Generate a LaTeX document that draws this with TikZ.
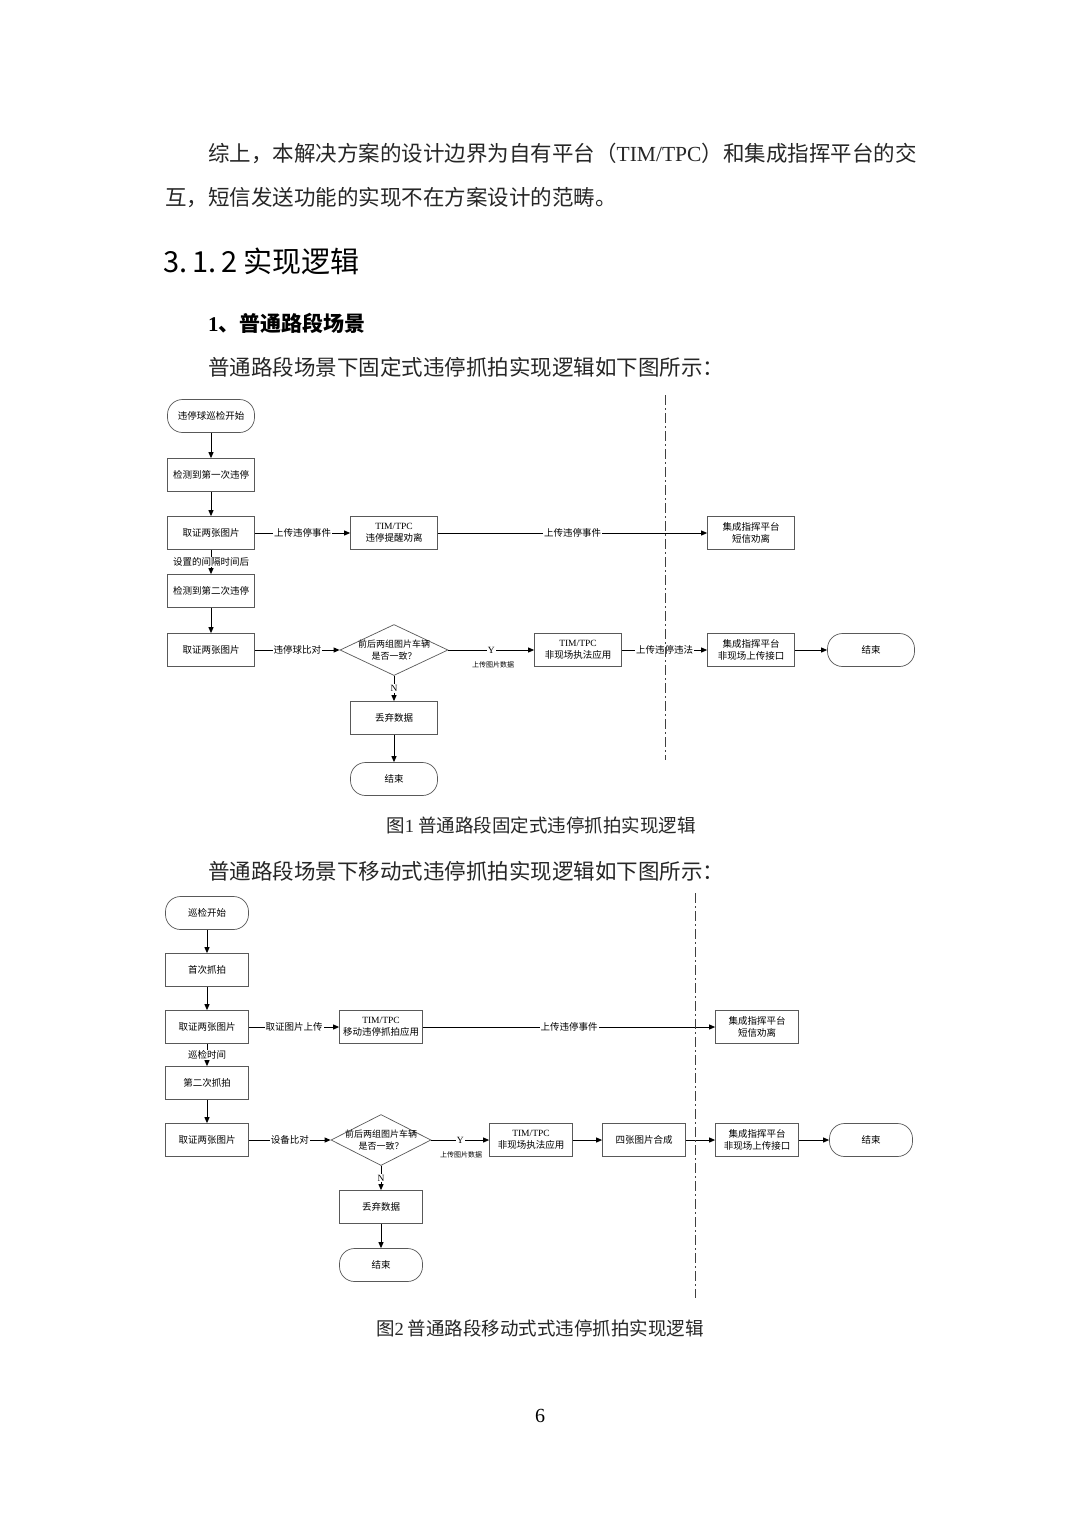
\documentclass[tikz,border=0pt]{standalone}
\usepackage{fontspec}
\setmainfont{Noto Sans CJK SC}
\newfontfamily\serif{Liberation Serif}
\usetikzlibrary{shapes.geometric,arrows.meta}
\begin{document}
\begin{tikzpicture}[x=1pt,y=-1pt,
  box/.style={draw=black!65, line width=0.7pt, minimum width=87pt, minimum height=33pt, inner sep=1pt, align=center, font=\fontsize{9.5}{12}\selectfont},
  boxb/.style={box, minimum width=83pt},
  term/.style={box, rounded corners=15pt},
  termb/.style={term, minimum width=83pt},
  dia/.style={draw=black!65, line width=0.7pt, diamond, minimum width=108pt, minimum height=51pt, inner sep=0pt},
  diab/.style={dia, minimum width=100pt},
  diatext/.style={align=center, inner sep=0pt, font=\fontsize{9}{12}\selectfont},
  arr/.style={line width=0.9pt, -{Triangle[length=6pt,width=5pt]}},
  lab/.style={fill=white, inner sep=1pt, font=\fontsize{9.5}{10}\selectfont},
  small/.style={inner sep=0pt, font=\fontsize{7}{8}\selectfont},
  para/.style={anchor=west, inner sep=0pt, font=\fontsize{21.5}{21.5}\selectfont, text=black!85},
  captext/.style={inner sep=0pt, font=\fontsize{18.5}{18.5}\selectfont, text=black!85},
  sep/.style={line width=0.8pt, black!75, dash pattern=on 10pt off 3pt on 2pt off 3pt}
]
\useasboundingbox (0,0) rectangle (1080,1527);
\fill[white] (0,0) rectangle (1080,1527);

% ---------- text ----------
\node[para] (p1) at (208,153) {综上，本解决方案的设计边界为自有平台（{\serif TIM/TPC}）和集成指挥平台的交};
\node[para] (p2) at (165,198) {互，短信发送功能的实现不在方案设计的范畴。};
\node[para, font=\fontsize{29}{29}\selectfont, text=black] (h1) at (163,261) {3.\,1.\,2 实现逻辑};
\node[para, font=\fontsize{21}{21}\selectfont\bfseries, text=black] (h2) at (208,323) {{\serif\bfseries 1}、普通路段场景};
\node[para] (p3) at (208,367) {普通路段场景下固定式违停抓拍实现逻辑如下图所示：};
\node[captext] (c1) at (541,825) {图{\serif 1} 普通路段固定式违停抓拍实现逻辑};
\node[para] (p4) at (208,871) {普通路段场景下移动式违停抓拍实现逻辑如下图所示：};
\node[captext] (c2) at (540,1328) {图{\serif 2} 普通路段移动式式违停抓拍实现逻辑};
\node[inner sep=0pt, font=\serif\fontsize{20}{20}\selectfont] (pg) at (540,1416) {6};

% ---------- diagram 1 ----------
\node[term] (s1) at (211,416) {违停球巡检开始};
\node[box] (b1) at (211,475) {检测到第一次违停};
\node[box] (b2) at (211,533) {取证两张图片};
\node[box] (b4) at (211,591) {检测到第二次违停};
\node[box] (b5) at (211,650) {取证两张图片};
\node[box] (t1) at (394,533) {{\serif TIM/TPC}\\违停提醒劝离};
\node[box] (j1) at (751,533) {集成指挥平台\\短信劝离};
\node[dia] (d1) at (394,650) {};
\node[diatext] (d1t) at (394,650) {前后两组图片车辆\\是否一致？};
\node[box] (f1) at (578,650) {{\serif TIM/TPC}\\非现场执法应用};
\node[box] (k1) at (751,650) {集成指挥平台\\非现场上传接口};
\node[term] (e1) at (871,650) {结束};
\node[box] (x1) at (394,718) {丢弃数据};
\node[term] (e2) at (394,779) {结束};
\node[small] (y1l) at (493,665) {上传图片数据};

\draw[arr] (s1) -- (b1);
\draw[arr] (b1) -- (b2);
\draw[arr] (b2) -- node[lab] {设置的间隔时间后} (b4);
\draw[arr] (b4) -- (b5);
\draw[arr] (b2) -- node[lab] {上传违停事件} (t1);
\draw[arr] (t1) -- node[lab] {上传违停事件} (j1);
\draw[arr] (b5) -- node[lab] {违停球比对} (d1);
\draw[arr] (d1) -- node[lab] {\serif Y} (f1);
\draw[arr] (f1) -- node[lab] {上传违停违法} (k1);
\draw[arr] (k1) -- (e1);
\draw[arr] (d1) -- node[lab] {\serif N} (x1);
\draw[arr] (x1) -- (e2);

\coordinate (v1a) at (665,395);
\coordinate (v1b) at (665,760);
\draw[sep] (v1a) -- (v1b);

% ---------- diagram 2 ----------
\node[termb] (s2) at (207,913) {巡检开始};
\node[boxb] (a1) at (207,970) {首次抓拍};
\node[boxb] (a2) at (207,1027) {取证两张图片};
\node[boxb] (a3) at (207,1083) {第二次抓拍};
\node[boxb] (a4) at (207,1140) {取证两张图片};
\node[boxb] (t2) at (381,1027) {{\serif TIM/TPC}\\移动违停抓拍应用};
\node[boxb] (j2) at (757,1027) {集成指挥平台\\短信劝离};
\node[diab] (d2) at (381,1140) {};
\node[diatext] (d2t) at (381,1140) {前后两组图片车辆\\是否一致？};
\node[boxb] (f2) at (531,1140) {{\serif TIM/TPC}\\非现场执法应用};
\node[boxb] (g2) at (644,1140) {四张图片合成};
\node[boxb] (k2) at (757,1140) {集成指挥平台\\非现场上传接口};
\node[termb] (e3) at (871,1140) {结束};
\node[boxb] (x2) at (381,1207) {丢弃数据};
\node[termb] (e4) at (381,1265) {结束};
\node[small] (y2l) at (461,1155) {上传图片数据};

\draw[arr] (s2) -- (a1);
\draw[arr] (a1) -- (a2);
\draw[arr] (a2) -- node[lab] {巡检时间} (a3);
\draw[arr] (a3) -- (a4);
\draw[arr] (a2) -- node[lab] {取证图片上传} (t2);
\draw[arr] (t2) -- node[lab] {上传违停事件} (j2);
\draw[arr] (a4) -- node[lab] {设备比对} (d2);
\draw[arr] (d2) -- node[lab] {\serif Y} (f2);
\draw[arr] (f2) -- (g2);
\draw[arr] (g2) -- (k2);
\draw[arr] (k2) -- (e3);
\draw[arr] (d2) -- node[lab] {\serif N} (x2);
\draw[arr] (x2) -- (e4);

\coordinate (v2a) at (695,893);
\coordinate (v2b) at (695,1298);
\draw[sep] (v2a) -- (v2b);
\end{tikzpicture}
\end{document}
